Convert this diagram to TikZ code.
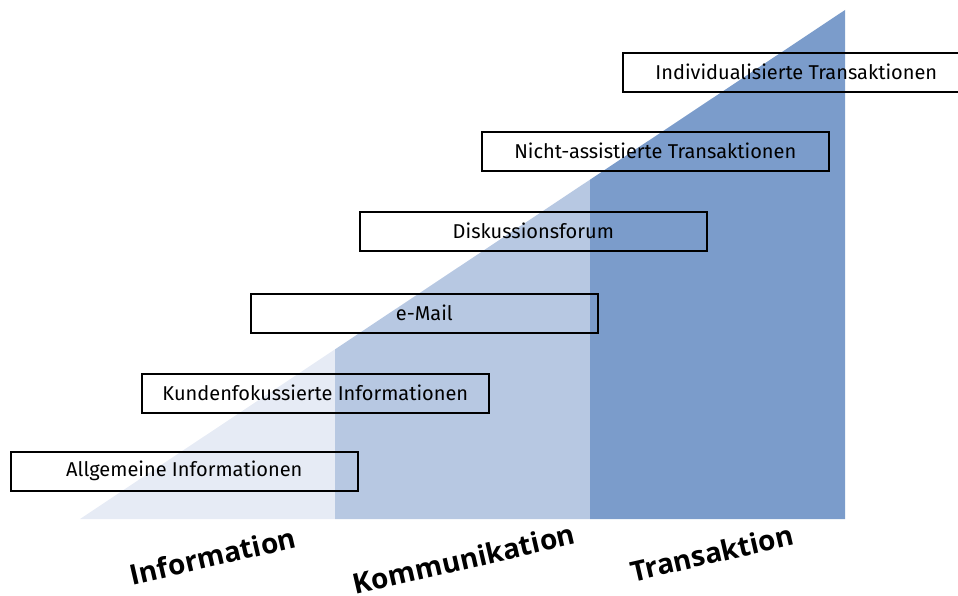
\documentclass[tikz,border=0pt]{standalone}
\usepackage{fontspec}
\setmainfont{Fira Sans}
\newfontfamily\labfont{Open Sans}
\definecolor{lightb}{HTML}{E6EBF5}
\definecolor{midb}{HTML}{B7C8E2}
\definecolor{darkb}{HTML}{7B9CCB}
\begin{document}
\begin{tikzpicture}[x=1pt,y=-1pt,
  stepbox/.style={draw=black,line width=1.6pt,minimum width=347pt,minimum height=39pt,anchor=north west,inner sep=0pt,font=\fontsize{20}{22}\selectfont},
  phase/.style={font=\labfont\bfseries\fontsize{28}{32}\selectfont,rotate=13}]
\useasboundingbox (0,0) rectangle (958,596);
% three regions of the triangle
\fill[lightb] (80,519) -- (335,519) -- (335,349.33) -- cycle;
\fill[midb] (335,519) -- (590,519) -- (590,179.67) -- (335,349.33) -- cycle;
\fill[darkb] (590,519) -- (845,519) -- (845,10) -- (590,179.67) -- cycle;
% boxes
\node[stepbox] (b1) at (10,451) {Allgemeine Informationen};
\node[stepbox] (b2) at (141,373) {Kundenfokussierte Informationen};
\node[stepbox] (b3) at (250,293) {e-Mail};
\node[stepbox] (b4) at (359,211) {Diskussionsforum};
\node[stepbox] (b5) at (481,131) {Nicht-assistierte Transaktionen};
\node[stepbox] (b6) at (622,52) {Individualisierte Transaktionen};
% phase labels
\node[phase] (p1) at (213,556) {Information};
\node[phase] (p2) at (464,559) {Kommunikation};
\node[phase] (p3) at (712,553) {Transaktion};
\end{tikzpicture}
\end{document}
